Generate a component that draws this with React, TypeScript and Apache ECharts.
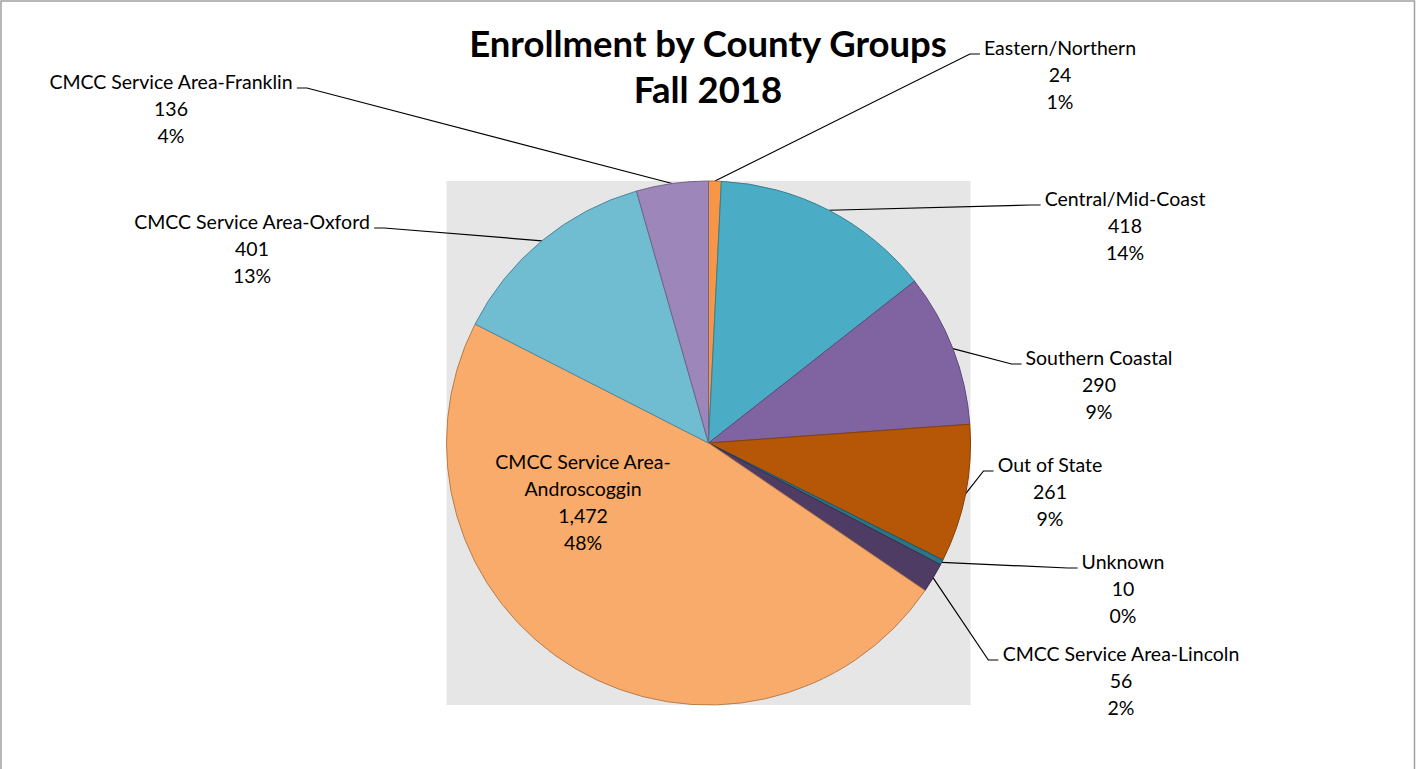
import React, { useEffect, useRef } from 'react';
import * as echarts from 'echarts';

const categories = [
  'Eastern/Northern',
  'Central/Mid-Coast',
  'Southern Coastal',
  'Out of State',
  'Unknown',
  'CMCC Service Area-Lincoln',
  'CMCC Service Area-Androscoggin',
  'CMCC Service Area-Oxford',
  'CMCC Service Area-Franklin',
];
const enrollment = [24, 418, 290, 261, 10, 56, 1472, 401, 136];

const sliceColors = ['#F79646', '#4BACC6', '#8064A2', '#B65708', '#2B7588', '#4F3C65', '#F9AB6B', '#70BCD0', '#9C86BA'];
const sliceBorders = ['#B66D2F', '#37808F', '#5E4A78', '#874006', '#1F5663', '#3A2C4A', '#B87E4E', '#52899A', '#736389'];

// label placement: centre x of the text block, top y of the block, side of the pie it sits on
const labelPlaces = [
  { x: 1060, y: 34, side: 'right' },
  { x: 1125, y: 185, side: 'right' },
  { x: 1099, y: 344, side: 'right' },
  { x: 1050, y: 451, side: 'right' },
  { x: 1123, y: 548, side: 'right' },
  { x: 1121, y: 640, side: 'right' },
  { x: 583, y: 448, side: 'inside' },
  { x: 252, y: 208, side: 'left' },
  { x: 171, y: 68, side: 'left' },
];

const CX = 708.5;
const CY = 443;
const R = 262;
const FONT = 'Lato';
const LH = 27;

export default function App() {
  const ref = useRef<HTMLDivElement>(null);
  useEffect(() => {
    if (!ref.current) return;
    const chart = echarts.init(ref.current, undefined, { renderer: 'svg' });
    const data = categories.map((name, i) => {
      const inside = labelPlaces[i].side === 'inside';
      return {
        name,
        value: enrollment[i],
        itemStyle: { color: sliceColors[i], borderColor: sliceBorders[i], borderWidth: 1 },
        label: inside ? { position: 'inside' } : { position: 'outside' },
        labelLine: { show: !inside },
      };
    });
    chart.setOption({
      animation: false,
      backgroundColor: '#ffffff',
      title: {
        text: 'Enrollment by County Groups\nFall 2018',
        left: 'center',
        top: 15,
        textStyle: { fontFamily: FONT, fontWeight: 'bold', fontSize: 36.5, lineHeight: 46, color: '#000' },
      },
      graphic: [
        {
          type: 'rect',
          z: -10,
          silent: true,
          shape: { x: 1, y: 1, width: 1413.5, height: 820 },
          style: { fill: '#ffffff', stroke: '#A0A0A0', lineWidth: 1.5 },
        },
        {
          type: 'rect',
          z: -5,
          silent: true,
          shape: { x: CX - R, y: CY - R, width: 2 * R, height: 2 * R },
          style: { fill: '#E6E6E6' },
        },
      ],
      series: [
        {
          type: 'pie',
          center: [CX, CY],
          radius: R,
          startAngle: 90,
          clockwise: true,
          avoidLabelOverlap: false,
          data,
          label: {
            show: true,
            fontFamily: FONT,
            fontSize: 19.5,
            lineHeight: LH,
            color: '#000',
            align: 'center',
            formatter: (p: any) => {
              const name = labelPlaces[p.dataIndex].side === 'inside' ? p.name.replace('Area-', 'Area-\n') : p.name;
              return `${name}\n${Number(p.value).toLocaleString('en-US')}\n${Math.round(p.percent)}%`;
            },
          },
          labelLine: { show: true, lineStyle: { color: '#000', width: 1.2 } },
          labelLayout: (p: any) => {
            const place = labelPlaces[p.dataIndex];
            const res: any = { x: place.x, y: place.y, align: 'center', verticalAlign: 'top' };
            if (place.side !== 'inside' && p.labelLinePoints && p.labelLinePoints[0]) {
              const w = p.labelRect.width;
              const lineY = place.y + 20;
              const anchor = p.labelLinePoints[0];
              const endX = place.side === 'right' ? place.x - w / 2 - 4 : place.x + w / 2 + 4;
              const elbowX = place.side === 'right' ? endX - 10 : endX + 10;
              res.labelLinePoints = [anchor, [elbowX, lineY], [endX, lineY]];
            }
            return res;
          },
        },
      ],
    });
    return () => chart.dispose();
  }, []);
  return <div ref={ref} style={{ position: 'absolute', left: 0, top: 0, width: 1416, height: 769 }} />;
}
